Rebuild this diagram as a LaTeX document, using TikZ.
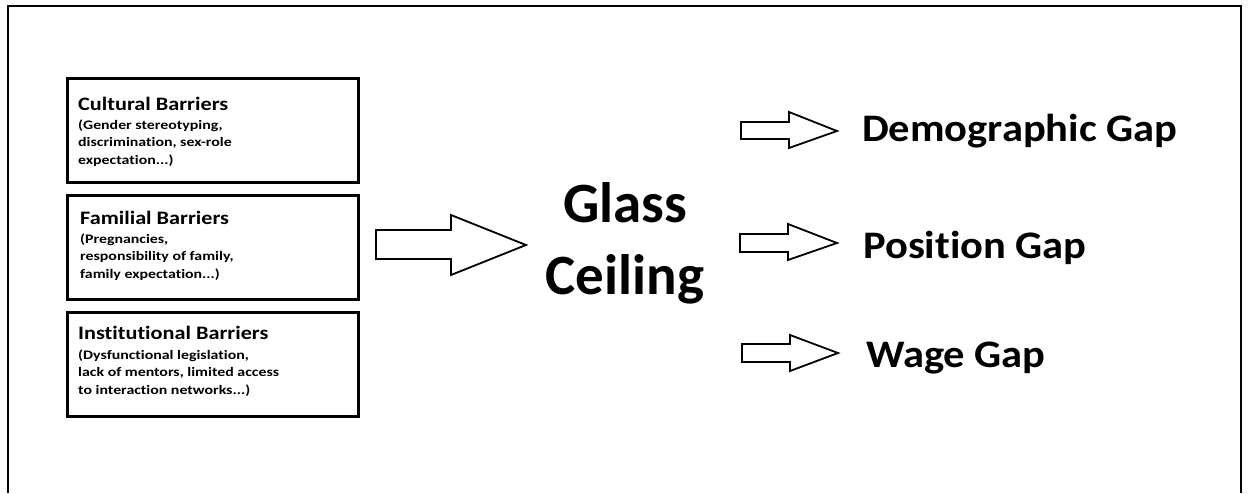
\documentclass[tikz,border=0pt]{standalone}
\usepackage{fontspec}
\setmainfont{Carlito}[Ligatures=NoCommon]
\newfontfamily\subfam[FakeStretch=1.22,Ligatures=NoCommon]{Carlito}
\newfontfamily\ttlfam[FakeStretch=1.17,Ligatures=NoCommon]{Carlito}
\newfontfamily\gapfam[FakeStretch=1.09,Ligatures=NoCommon]{Carlito}
\begin{document}
\begin{tikzpicture}[x=1pt,y=-1pt,
  barrier/.style={draw,line width=3pt},
  blockarr/.style={draw,line width=1.8pt,line join=miter},
  ttl/.style={anchor=base west,inner sep=0pt,font=\ttlfam\bfseries\fontsize{19}{19}\selectfont},
  sub/.style={anchor=base west,inner sep=0pt,align=left,font=\subfam\bfseries\fontsize{13}{17.4}\selectfont},
  gap/.style={anchor=base west,inner sep=0pt,font=\gapfam\bfseries\fontsize{39}{39}\selectfont}]
\useasboundingbox (0,0) rectangle (1259,493);
\fill[white] (0,0) rectangle (1259,493);
\draw[line width=2pt] (8,493) -- (8,6) -- (1241,6) -- (1241,493);
% barrier boxes
\draw[barrier] (67,78) rectangle (358,182);
\draw[barrier] (67,195) rectangle (358,299);
\draw[barrier] (67,312) rectangle (358,416);
\node[ttl] (t1) at (78,110) {Cultural Barriers};
\node[sub] (s1) at (78,164) {(Gender stereotyping,\\discrimination, sex-role\\expectation...)};
\node[ttl] (t2) at (80,224) {Familial Barriers};
\node[sub] (s2) at (80,278) {(Pregnancies,\\responsibility of family,\\family expectation...)};
\node[ttl] (t3) at (78,339) {Institutional Barriers};
\node[sub] (s3) at (78,394) {(Dysfunctional legislation,\\lack of mentors, limited access\\to interaction networks...)};
% big arrow
\draw[blockarr] (376,230) -- (451,230) -- (451,215) -- (526,245) -- (451,275) -- (451,259) -- (376,259) -- cycle;
\node[anchor=center,align=center,inner sep=0pt,font=\bfseries\fontsize{57}{72}\selectfont] (gc) at (625,243) {Glass\\Ceiling};
% small arrows
\draw[blockarr] (741,122) -- (789,122) -- (789,112) -- (837,131) -- (789,148) -- (789,139) -- (741,139) -- cycle;
\draw[blockarr] (740,234) -- (788,234) -- (788,224) -- (837,243) -- (788,260) -- (788,252) -- (740,252) -- cycle;
\draw[blockarr] (742,344) -- (790,344) -- (790,335) -- (838,353) -- (790,371) -- (790,362) -- (742,362) -- cycle;
\node[gap] (g1) at (862,141) {Demographic Gap};
\node[gap] (g2) at (863,258) {Position Gap};
\node[gap] (g3) at (866,367) {Wage Gap};
\end{tikzpicture}
\end{document}
